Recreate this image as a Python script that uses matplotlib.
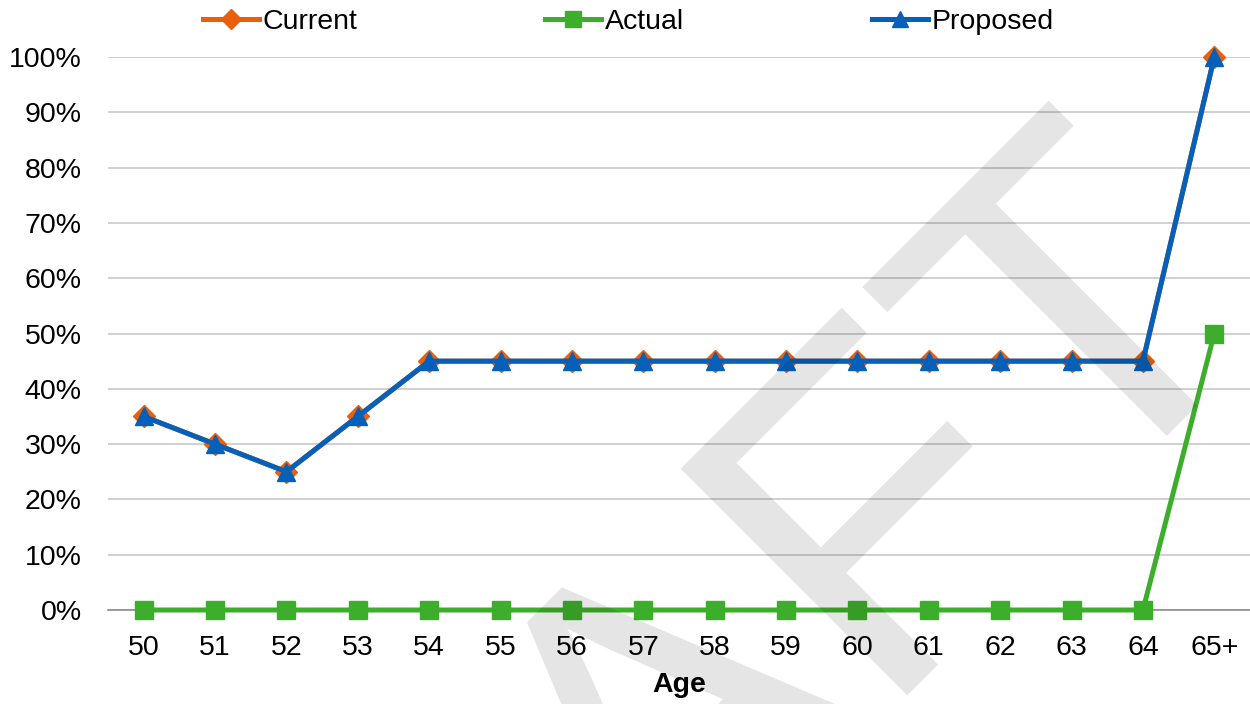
import matplotlib
matplotlib.use('Agg')
import matplotlib.pyplot as plt
from matplotlib.textpath import TextPath
from matplotlib.patches import PathPatch
from matplotlib.font_manager import FontProperties
from matplotlib.transforms import Affine2D, IdentityTransform
from matplotlib.ticker import PercentFormatter

ages = ['50', '51', '52', '53', '54', '55', '56', '57', '58', '59', '60',
        '61', '62', '63', '64', '65+']
current = [35, 30, 25, 35, 45, 45, 45, 45, 45, 45, 45, 45, 45, 45, 45, 100]
actual = [0, 0, 0, 0, 0, 0, 0, 0, 0, 0, 0, 0, 0, 0, 0, 50]
proposed = [35, 30, 25, 35, 45, 45, 45, 45, 45, 45, 45, 45, 45, 45, 45, 100]

ORANGE = '#E8600E'
GREEN = '#3DAE2B'
BLUE = '#0560BA'
FS = 20.5

plt.rcParams['font.family'] = ['Liberation Sans', 'DejaVu Sans']

fig = plt.figure(figsize=(12.5, 7.04), dpi=100)
ax = fig.add_axes([108 / 1250, 94 / 704, 1142 / 1250, 553 / 704])

x = list(range(len(ages)))
ax.plot(x, current, color=ORANGE, marker='D', ms=11.5, lw=3.6, label='Current',
        zorder=3, clip_on=False)
ax.plot(x, actual, color=GREEN, marker='s', ms=13, lw=3.6, label='Actual',
        zorder=3, clip_on=False)
ax.plot(x, proposed, color=BLUE, marker='^', ms=13.5, lw=3.6, label='Proposed',
        zorder=4, clip_on=False)

ax.set_xlim(-0.5, len(ages) - 0.5)
ax.set_ylim(0, 100)
ax.set_yticks(range(0, 101, 10))
ax.yaxis.set_major_formatter(PercentFormatter(decimals=0))
ax.set_xticks(x, ages)
ax.yaxis.grid(True, color='#C8C8C8', lw=1.2, zorder=0)
ax.set_axisbelow(True)
for s in ['left', 'right', 'top']:
    ax.spines[s].set_visible(False)
ax.spines['bottom'].set_color('#8C8C8C')
ax.spines['bottom'].set_linewidth(1.2)
ax.tick_params(axis='both', length=0, labelsize=FS)
ax.tick_params(axis='y', pad=19)
ax.tick_params(axis='x', pad=18)
ax.set_xlabel('Age', fontsize=FS, fontweight='bold', labelpad=8)

fig.legend(loc='upper center', bbox_to_anchor=(0.5028, 1.004), ncol=3,
           frameon=False, fontsize=FS, handlelength=1.96,
           handletextpad=0.14, columnspacing=6.6, borderaxespad=0.0,
           markerscale=0.9)

# DRAFT watermark
tp = TextPath((0, 0), 'DRAFT', size=466,
              prop=FontProperties(family='Liberation Sans'))
ext = tp.get_extents()
tr = Affine2D().translate(-ext.x1, -ext.y1).rotate_deg(45).translate(1048.6, 603.3)
wm = PathPatch(tr.transform_path(tp), facecolor='black', alpha=0.10,
               edgecolor='none', transform=IdentityTransform(), zorder=10)
fig.add_artist(wm)

fig.savefig('out.png', dpi=100)
